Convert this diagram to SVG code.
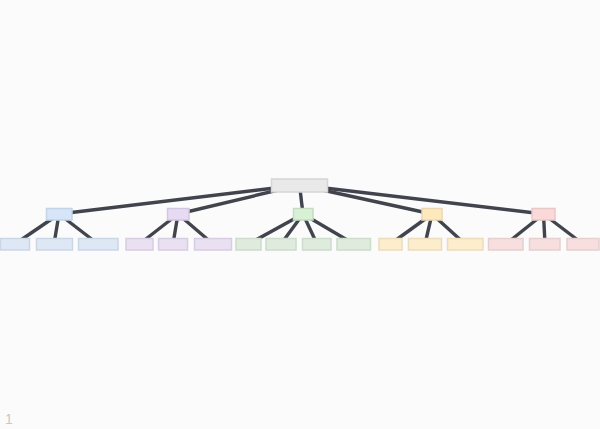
<svg xmlns="http://www.w3.org/2000/svg" width="600" height="429" viewBox="0 0 600 429">
<style>
.e{stroke:#42444d;stroke-width:3.4;fill:none;stroke-linecap:butt}
.n{stroke-width:1.5}
.r{fill:#e9e9e9;stroke:#d5d5d5}
.b1{fill:#d6e6f8;stroke:#c3d3e8}
.b2{fill:#dee8f5;stroke:#cad6e6}
.p1{fill:#e6dbf2;stroke:#d2c6e2}
.p2{fill:#e9e0f2;stroke:#d7cde3}
.g1{fill:#d8f0d6;stroke:#c3dcc2}
.g2{fill:#dfecdd;stroke:#cddccb}
.y1{fill:#fde9bd;stroke:#ead8b0}
.y2{fill:#fcedcc;stroke:#ebdcbe}
.d1{fill:#fbd9d9;stroke:#e8c8c8}
.d2{fill:#f8dfdf;stroke:#e6cfcf}
.t{font-family:"Liberation Sans",Arial,sans-serif;font-size:14px;fill:#c8c8c8}
</style>
<rect x="0" y="0" width="600" height="429" fill="#fbfbfb"/>
<g id="connectors">
<line class="e" x1="299.5" y1="185" x2="59" y2="214"/>
<line class="e" x1="299.5" y1="185" x2="178" y2="214"/>
<line class="e" x1="299.5" y1="185" x2="303" y2="214"/>
<line class="e" x1="299.5" y1="185" x2="432" y2="214"/>
<line class="e" x1="299.5" y1="185" x2="543.5" y2="214"/>
<line class="e" x1="59" y1="214" x2="15" y2="244"/>
<line class="e" x1="59" y1="214" x2="54" y2="244"/>
<line class="e" x1="59" y1="214" x2="98" y2="244"/>
<line class="e" x1="178" y1="214" x2="139.5" y2="244"/>
<line class="e" x1="178" y1="214" x2="173" y2="244"/>
<line class="e" x1="178" y1="214" x2="213" y2="244"/>
<line class="e" x1="303" y1="214" x2="248.5" y2="244"/>
<line class="e" x1="303" y1="214" x2="281" y2="244"/>
<line class="e" x1="303" y1="214" x2="317" y2="244"/>
<line class="e" x1="303" y1="214" x2="354" y2="244"/>
<line class="e" x1="432" y1="214" x2="390.5" y2="244"/>
<line class="e" x1="432" y1="214" x2="425" y2="244"/>
<line class="e" x1="432" y1="214" x2="465" y2="244"/>
<line class="e" x1="543.5" y1="214" x2="506" y2="244"/>
<line class="e" x1="543.5" y1="214" x2="545" y2="244"/>
<line class="e" x1="543.5" y1="214" x2="583" y2="244"/>
</g>
<g id="root"><rect class="n r" x="271.5" y="179" width="56" height="13"/></g>
<g id="a"><rect class="n b1" x="46.5" y="208.5" width="25.5" height="11.5"/></g>
<g id="b"><rect class="n p1" x="167.5" y="208.5" width="21.5" height="11.5"/></g>
<g id="c"><rect class="n g1" x="293.5" y="208.5" width="19.5" height="11.5"/></g>
<g id="d"><rect class="n y1" x="422" y="208.5" width="20" height="11.5"/></g>
<g id="e"><rect class="n d1" x="532" y="208.5" width="23" height="11.5"/></g>
<g id="a1"><rect class="n b2" x="0.5" y="238.5" width="29" height="11.5"/></g>
<g id="a2"><rect class="n b2" x="36.5" y="238.5" width="36" height="11.5"/></g>
<g id="a3"><rect class="n b2" x="78.5" y="238.5" width="39.5" height="11.5"/></g>
<g id="b1"><rect class="n p2" x="126" y="238.5" width="27" height="11.5"/></g>
<g id="b2"><rect class="n p2" x="158.5" y="238.5" width="29" height="11.5"/></g>
<g id="b3"><rect class="n p2" x="194.5" y="238.5" width="37" height="11.5"/></g>
<g id="c1"><rect class="n g2" x="236" y="238.5" width="25" height="11.5"/></g>
<g id="c2"><rect class="n g2" x="266" y="238.5" width="30" height="11.5"/></g>
<g id="c3"><rect class="n g2" x="302.5" y="238.5" width="28.5" height="11.5"/></g>
<g id="c4"><rect class="n g2" x="337" y="238.5" width="33.5" height="11.5"/></g>
<g id="d1"><rect class="n y2" x="379" y="238.5" width="23" height="11.5"/></g>
<g id="d2"><rect class="n y2" x="408.5" y="238.5" width="33" height="11.5"/></g>
<g id="d3"><rect class="n y2" x="447.5" y="238.5" width="35.5" height="11.5"/></g>
<g id="e1"><rect class="n d2" x="488.5" y="238.5" width="34.5" height="11.5"/></g>
<g id="e2"><rect class="n d2" x="529.5" y="238.5" width="30.5" height="11.5"/></g>
<g id="e3"><rect class="n d2" x="567" y="238.5" width="32" height="11.5"/></g>
<text class="t" x="5" y="424">1</text>
</svg>
